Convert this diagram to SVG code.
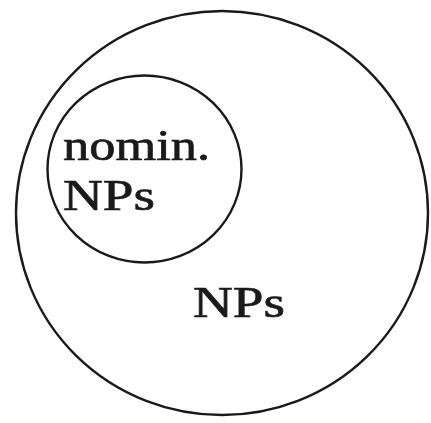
<svg xmlns="http://www.w3.org/2000/svg" width="431" height="423" viewBox="0 0 431 423">
<style>
.c{fill:none;stroke:#1a1a1a;stroke-width:2.4}
.t{font-family:"Liberation Serif","DejaVu Serif",serif;font-size:44px;fill:#1a1a1a;stroke:#1a1a1a;stroke-width:0.7}
</style>
<rect width="431" height="423" fill="#fff"/>
<g id="np">
<ellipse class="c" cx="222" cy="213" rx="206" ry="202"/>
<text class="t" x="193" y="317" textLength="92" lengthAdjust="spacingAndGlyphs">NPs</text>
</g>
<g id="nomin">
<ellipse class="c" cx="144.5" cy="169" rx="97" ry="93.5"/>
<text class="t" x="63" y="160" textLength="147" lengthAdjust="spacingAndGlyphs">nomin.</text>
<text class="t" x="63" y="210" textLength="92" lengthAdjust="spacingAndGlyphs">NPs</text>
</g>
<g id="connectors"/>
</svg>
